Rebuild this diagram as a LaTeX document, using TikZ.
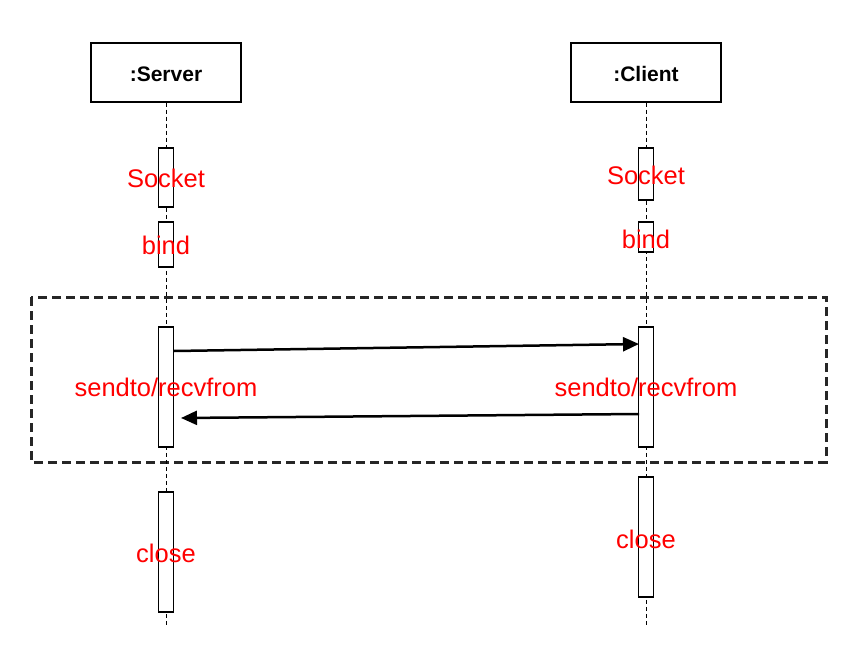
\documentclass[tikz,border=0pt]{standalone}
\usepackage{fontspec}
\setmainfont{Liberation Sans}
\usetikzlibrary{arrows.meta}
\begin{document}
\begin{tikzpicture}[x=1pt,y=-1pt,
  objbox/.style={draw=black,line width=1.5pt,fill=white,minimum width=150pt,minimum height=59pt,inner sep=0pt},
  objname/.style={inner sep=0pt,anchor=base,font=\fontsize{21}{24}\selectfont\bfseries},
  actbar/.style={draw=black,line width=1.5pt,fill=white,minimum width=15pt,inner sep=0pt},
  lifeline/.style={draw=black,line width=0.9pt,dash pattern=on 4pt off 3pt},
  lbl/.style={text=red,font=\fontsize{25.5}{28}\selectfont,inner sep=0pt},
  msg/.style={draw=black,line width=2.5pt,-{Triangle[length=16pt,width=14pt]}},
  frame/.style={draw=black!85,line width=3pt,dash pattern=on 9pt off 5pt}
]
\useasboundingbox (0,0) rectangle (851,658);
% frame
\draw[frame] (31,297) rectangle (826,462);
% objects
\node[objbox] (srv) at (166,72.5) {};
\node[objbox] (cli) at (646,72.5) {};
\node[objname] (srvname) at (166,82) {:Server};
\node[objname] (cliname) at (646,82) {:Client};
\coordinate (srvend) at (166,627);
\coordinate (cliend) at (646,627);
\draw[lifeline] (srv.south) -- (srvend);
\draw[lifeline] (cli.south) -- (cliend);
% activation bars server
\node[actbar,minimum height=59pt] (s1) at (166,177.5) {};
\node[actbar,minimum height=45pt] (s2) at (166,244.5) {};
\node[actbar,minimum height=120pt] (s3) at (166,387) {};
\node[actbar,minimum height=120pt] (s4) at (166,552) {};
% activation bars client
\node[actbar,minimum height=52pt] (c1) at (646,174) {};
\node[actbar,minimum height=30pt] (c2) at (646,237) {};
\node[actbar,minimum height=120pt] (c3) at (646,387) {};
\node[actbar,minimum height=120pt] (c4) at (646,537) {};
% labels
\node[lbl] (ls1) at (166,178) {Socket};
\node[lbl] (ls2) at (166,245) {bind};
\node[lbl] (ls3) at (166,387.5) {sendto/recvfrom};
\node[lbl] (ls4) at (166,553) {close};
\node[lbl] (lc1) at (646,175) {Socket};
\node[lbl] (lc2) at (646,239) {bind};
\node[lbl] (lc3) at (646,387.5) {sendto/recvfrom};
\node[lbl] (lc4) at (646,539) {close};
% messages
\coordinate (m1a) at (174,351);
\coordinate (m1b) at (639,344);
\coordinate (m2a) at (639,414);
\coordinate (m2b) at (181,418);
\draw[msg] (m1a) -- (m1b);
\draw[msg] (m2a) -- (m2b);
\end{tikzpicture}
\end{document}
